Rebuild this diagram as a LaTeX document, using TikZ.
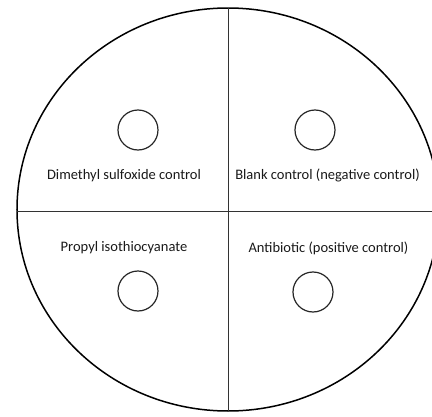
\documentclass[tikz,border=0pt]{standalone}
\usepackage{fontspec}
\setmainfont{Carlito}
\usepackage{tikz}

\begin{document}
\begin{tikzpicture}[x=1pt, y=1pt,
    plate/.style={draw=black, line width=1.5pt},
    divider/.style={draw=black!80, line width=0.7pt},
    well/.style={circle, draw=black!85, line width=1.2pt, minimum size=40pt, inner sep=0pt},
    tag/.style={font=\fontsize{14.5}{16}\selectfont, text=black!90, inner sep=1pt}]
      \useasboundingbox (-228,-206.5) rectangle (204,209.5);
      \clip (-228,-206.5) rectangle (204,209.5);

      % the plate and its four quarters
      \draw[plate] (0,0) ellipse [x radius=211, y radius=201.5];
      \coordinate (top) at (0,201.5);
      \coordinate (bottom) at (0,-201.5);
      \coordinate (left) at (-211,-1.5);
      \coordinate (right) at (211,-1.5);
      \draw[divider] (top) -- (bottom);
      \draw[divider] (left) -- (right);

      % wells
      \node[well] (dmso) at (-90,79.5) {};
      \node[well] (blank) at (87,79.5) {};
      \node[well] (pitc) at (-90,-81.5) {};
      \node[well] (abx) at (85,-82.5) {};

      % labels
      \node[tag] (dmsotext) at (-104,34) {Dimethyl sulfoxide control};
      \node[tag] (blanktext) at (99.5,34.5) {Blank control (negative control)};
      \node[tag] (pitctext) at (-104,-38.5) {Propyl isothiocyanate};
      \node[tag] (abxtext) at (100.5,-38.5) {Antibiotic (positive control)};
\end{tikzpicture}
\end{document}
